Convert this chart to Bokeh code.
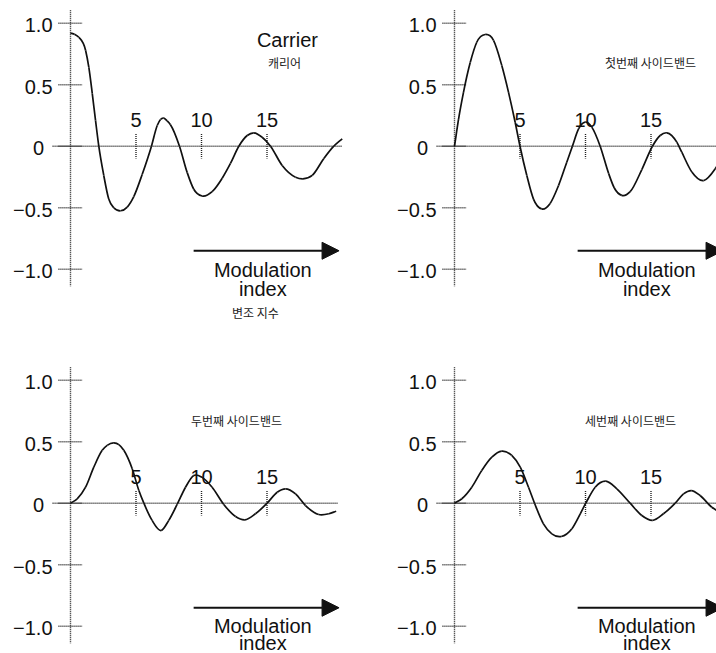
from bokeh.plotting import figure
from bokeh.layouts import gridplot
from bokeh.models import Range1d, Arrow, NormalHead
from bokeh.core.properties import value
from bokeh.embed import file_html
from bokeh.resources import INLINE

# ---- data (modulation index, amplitude) ----
carrier_x = [0, 0.3, 0.63, 1.15, 1.40, 1.66, 1.91, 2.16, 2.54, 2.92, 3.31, 3.82, 4.33, 4.83,
             5.47, 6.18, 6.62, 6.87, 7.12, 7.38, 7.63, 8.32, 8.91, 9.41, 10.05, 10.81, 11.58,
             12.21, 12.85, 13.49, 13.99, 14.63, 15.27, 16.16, 17.18, 17.74, 18.45, 19.34,
             20.10, 20.74]
carrier_y = [0.92, 0.91, 0.886, 0.78, 0.64, 0.43, 0.21, 0.0, -0.238, -0.43, -0.50, -0.525,
             -0.495, -0.41, -0.23, 0.0, 0.168, 0.217, 0.228, 0.205, 0.175, 0.0, -0.215, -0.35,
             -0.405, -0.37, -0.26, -0.14, 0.0, 0.087, 0.109, 0.073, 0.0, -0.157, -0.252, -0.265,
             -0.238, -0.10, 0.0, 0.06]

first_x = [0, 0.31, 0.69, 1.20, 1.70, 2.34, 2.98, 3.61, 4.12, 4.63, 5.0, 5.52, 6.03, 6.66, 7.30,
           7.94, 8.57, 9.0, 9.47, 9.98, 10.48, 11.12, 11.76, 12.20, 12.77, 13.41, 14.30, 15.11,
           15.70, 16.21, 16.97, 17.35, 18.12, 19.01, 19.90, 20.61]
first_y = [0.0, 0.22, 0.44, 0.68, 0.845, 0.908, 0.86, 0.656, 0.44, 0.195, 0.0, -0.238, -0.43,
           -0.51, -0.465, -0.32, -0.13, 0.0, 0.14, 0.195, 0.155, 0.0, -0.22, -0.34, -0.40,
           -0.37, -0.19, 0.0, 0.087, 0.109, 0.033, -0.049, -0.21, -0.28, -0.184, -0.049]

second_x = [0, 0.51, 1.15, 1.78, 2.42, 2.80, 3.31, 3.69, 4.07, 4.71, 5.22, 5.60, 6.23, 6.92,
            7.50, 8.14, 8.78, 9.41, 10.05, 10.81, 11.70, 12.60, 13.31, 14.12, 15.01, 15.78,
            16.41, 17.18, 17.94, 18.95, 19.72, 20.28]
second_y = [0.0, 0.036, 0.13, 0.293, 0.43, 0.47, 0.49, 0.476, 0.43, 0.28, 0.103, 0.0, -0.14,
            -0.222, -0.14, -0.01, 0.13, 0.225, 0.21, 0.13, -0.01, -0.108, -0.135, -0.086, 0.0,
            0.089, 0.117, 0.076, -0.019, -0.092, -0.086, -0.065]

third_x = [0, 0.56, 1.32, 2.08, 2.85, 3.61, 4.37, 5.02, 5.65, 6.11, 6.79, 7.43, 8.15, 8.96,
           9.60, 10.02, 10.74, 11.55, 12.39, 13.41, 14.30, 15.11, 15.95, 16.85, 17.48, 18.07,
           18.75, 19.64, 20.28]
third_y = [0.0, 0.036, 0.13, 0.266, 0.374, 0.423, 0.388, 0.293, 0.13, 0.0, -0.168, -0.249,
           -0.271, -0.208, -0.086, 0.0, 0.13, 0.179, 0.117, 0.0, -0.10, -0.14, -0.086, 0.0,
           0.076, 0.103, 0.063, -0.033, -0.073]

ytick_values = [1.0, 0.5, 0.0, -0.5, -1.0]
ytick_labels = ["1.0", "0.5", "0", "\u22120.5", "\u22121.0"]
xtick_values = [5, 10, 15]
xtick_labels = ["5", "10", "15"]
panel_labels = ["\uce90\ub9ac\uc5b4", "\uccab\ubc88\uc9f8 \uc0ac\uc774\ub4dc\ubc34\ub4dc",
                "\ub450\ubc88\uc9f8 \uc0ac\uc774\ub4dc\ubc34\ub4dc",
                "\uc138\ubc88\uc9f8 \uc0ac\uc774\ub4dc\ubc34\ub4dc"]
caption_lines = ["Modulation", "index"]
carrier_title = "Carrier"
caption_korean = "\ubcc0\uc870 \uc9c0\uc218"

# ---- layout constants ----
SX = 13.1      # px per unit of modulation index
SY = 123.0     # px per unit of amplitude
AXIS_PX = 70   # y axis position inside each figure
LATIN = value("Liberation Sans")
KOREAN = value("Noto Sans CJK KR")
INK = "#111111"
DOT = "#222222"


def smooth_curve(p, xs, ys):
    """Draw a smooth curve through the read points (cubic Hermite as Bezier segments)."""
    n = len(xs)
    h = [xs[i + 1] - xs[i] for i in range(n - 1)]
    d = [(ys[i + 1] - ys[i]) / h[i] for i in range(n - 1)]
    m = [d[0]]
    for i in range(1, n - 1):
        m.append((h[i - 1] * d[i] + h[i] * d[i - 1]) / (h[i - 1] + h[i]))
    m.append(d[-1])
    x0s, y0s, x1s, y1s, c0x, c0y, c1x, c1y = [], [], [], [], [], [], [], []
    for i in range(n - 1):
        x0s.append(xs[i]); y0s.append(ys[i])
        x1s.append(xs[i + 1]); y1s.append(ys[i + 1])
        c0x.append(xs[i] + h[i] / 3.0)
        c0y.append(ys[i] + m[i] * h[i] / 3.0)
        c1x.append(xs[i + 1] - h[i] / 3.0)
        c1y.append(ys[i + 1] - m[i + 1] * h[i] / 3.0)
    p.bezier(x0=x0s, y0=y0s, x1=x1s, y1=y1s, cx0=c0x, cy0=c0y, cx1=c1x, cy1=c1y,
             line_color=INK, line_width=1.7)


def make_panel(width, height, zero_px, xs, ys, label, label_x, label_y, zero_end,
               caption_y, title=False, korean_caption=False):
    x0 = -AXIS_PX / SX
    x1 = x0 + width / SX
    y1 = zero_px / SY
    y0 = y1 - height / SY
    p = figure(width=width, height=height, x_range=Range1d(x0, x1), y_range=Range1d(y0, y1),
               x_axis_type=None, y_axis_type=None, toolbar_location=None,
               output_backend="svg", min_border=0, outline_line_color=None,
               background_fill_color="white", border_fill_color="white")

    dot = dict(line_color=DOT, line_width=1.4, line_dash="1 1")
    # vertical axis
    p.segment(x0=[0], y0=[1.106], x1=[0], y1=[-1.14], **dot)
    # y ticks
    p.segment(x0=[-0.92] * len(ytick_values), y0=ytick_values,
              x1=[0.92] * len(ytick_values), y1=ytick_values, **dot)
    # zero line
    p.segment(x0=[-1.37], y0=[0], x1=[zero_end], y1=[0], **dot)
    # x ticks
    p.segment(x0=xtick_values, y0=[0.1] * len(xtick_values),
              x1=xtick_values, y1=[-0.1] * len(xtick_values), **dot)

    # y tick labels
    nz = [(v, t) for v, t in zip(ytick_values, ytick_labels) if t != "0"]
    p.text(x=[0] * len(nz), y=[v for v, _ in nz], text=[t for _, t in nz],
           x_offset=-18, y_offset=2, text_align="right", text_baseline="middle",
           text_font=LATIN, text_font_size="20px", text_color=INK)
    zv = [(v, t) for v, t in zip(ytick_values, ytick_labels) if t == "0"]
    p.text(x=[0] * len(zv), y=[v for v, _ in zv], text=[t for _, t in zv],
           x_offset=-32, y_offset=2, text_align="center", text_baseline="middle",
           text_font=LATIN, text_font_size="20px", text_color=INK)
    # x tick labels
    p.text(x=xtick_values, y=[0.217] * len(xtick_values), text=xtick_labels,
           text_align="center", text_baseline="middle",
           text_font=LATIN, text_font_size="20px", text_color=INK)

    # curve
    smooth_curve(p, xs, ys)

    # labels
    if title:
        p.text(x=[16.56], y=[0.86], text=[carrier_title], text_align="center",
               text_baseline="middle", text_font=LATIN, text_font_size="20px",
               text_color=INK)
    p.text(x=[label_x], y=[label_y], text=[label], text_align="center",
           text_baseline="middle", text_font=KOREAN, text_font_size="12px",
           text_color="#222222")

    # arrow and caption
    p.add_layout(Arrow(x_start=9.4, y_start=-0.85, x_end=20.5, y_end=-0.85,
                       line_color=INK, line_width=2,
                       end=NormalHead(size=17, fill_color=INK, line_color=INK,
                                      line_width=1)))
    p.text(x=[14.68, 14.68], y=caption_y, text=caption_lines,
           text_align="center", text_baseline="middle",
           text_font=LATIN, text_font_size="20px", text_color=INK)
    if korean_caption:
        p.text(x=[14.12], y=[-1.35], text=[caption_korean], text_align="center",
               text_baseline="middle", text_font=KOREAN, text_font_size="12px",
               text_color="#222222")
    return p


top_caption = [-1.005, -1.16]
bottom_caption = [-1.0, -1.14]
p1 = make_panel(384, 365, 145.7, carrier_x, carrier_y, panel_labels[0], 16.34, 0.68, 20.76,
                top_caption, title=True, korean_caption=True)
p2 = make_panel(332, 365, 145.7, first_x, first_y, panel_labels[1], 14.96, 0.68, 22.0,
                top_caption)
p3 = make_panel(384, 288, 137.7, second_x, second_y, panel_labels[2], 12.67, 0.672, 20.38,
                bottom_caption)
p4 = make_panel(332, 288, 137.7, third_x, third_y, panel_labels[3], 13.44, 0.672, 22.0,
                bottom_caption)

grid = gridplot([[p1, p2], [p3, p4]], toolbar_location=None)

with open("out.html", "w", encoding="utf-8") as f:
    f.write(file_html(grid, INLINE, title="Bessel sidebands"))
